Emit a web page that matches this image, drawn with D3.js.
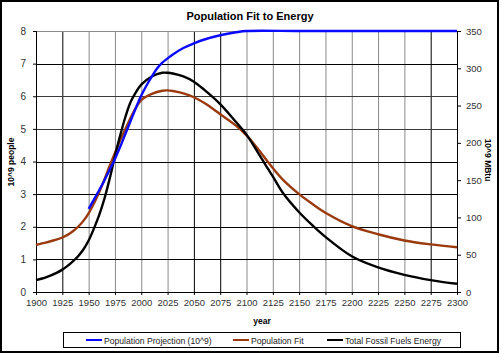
<!DOCTYPE html>
<html><head><meta charset="utf-8">
<script src="https://cdn.jsdelivr.net/npm/d3@7/dist/d3.min.js"></script>
<style>body{margin:0;background:#fff}svg{display:block}text{font-family:"Liberation Sans",Arial,sans-serif}</style>
</head><body><svg id="c" width="500" height="354"></svg>
<script>
// ---- data ----
const projYears = [1950,1955,1960,1965,1970,1975,1980,1985,1990,1995,2000,2005,2010,2015,2020,2025,2030,2040,2050,2060,2075,2090,2100,2150,2200,2250,2300];
const projValues = [2.55,2.83,3.12,3.42,3.75,4.08,4.45,4.85,5.25,5.65,6.02,6.33,6.6,6.85,7.03,7.16,7.28,7.48,7.62,7.74,7.87,7.96,8.0,8.0,8.0,8.0,8.0];

const fitYears = [1900,1910,1920,1925,1930,1935,1940,1945,1950,1955,1960,1965,1970,1975,1980,1985,1990,1995,2000,2010,2020,2025,2030,2040,2050,2060,2075,2090,2100,2110,2120,2125,2135,2150,2163,2175,2200,2225,2250,2275,2300];
const fitValues = [1.44,1.52,1.61,1.67,1.75,1.86,2.0,2.18,2.41,2.71,3.06,3.45,3.87,4.26,4.65,5.0,5.35,5.65,5.88,6.07,6.17,6.18,6.16,6.09,5.97,5.79,5.45,5.1,4.8,4.42,4.0,3.8,3.43,3.0,2.69,2.43,2.02,1.77,1.58,1.46,1.37];

const energyYears = [1900,1910,1920,1925,1930,1935,1940,1945,1950,1955,1960,1965,1970,1975,1980,1985,1990,1995,2000,2010,2020,2025,2030,2040,2050,2060,2075,2090,2100,2110,2120,2125,2135,2150,2163,2175,2200,2225,2250,2275,2300];
const energyValues = [16,20,26,30,35,41,48,57,69,85,103,125,152,182,210,235,255,268,278,289,294,294,293,289,282,271,252,228,211,189,166,155,132,107,89,74,48,33,23,16,11];

const xTicks = d3.range(1900, 2301, 25);
const leftTicks = [0,1,2,3,4,5,6,7,8];
const rightTicks = [0,50,100,150,200,250,300,350];
const seriesNames = ["Population Projection (10^9)","Population Fit","Total Fossil Fuels Energy"];
const seriesColors = ["#0a0aff","#9a3a0e","#000000"];

// ---- layout ----
const svg = d3.select("#c");
const L = 36, R = 457, T = 31, B = 292;
const x = d3.scaleLinear().domain([1900,2300]).range([L,R]);
const yL = d3.scaleLinear().domain([0,8]).range([B,T]);
const yR = d3.scaleLinear().domain([0,350]).range([B,T]);

svg.append("rect").attr("x",1).attr("y",1).attr("width",497).attr("height",351)
  .attr("fill","#fff").attr("stroke","#000").attr("stroke-width",2);

// grid
const darkV = new Set([1925,2050,2075,2275]);
svg.append("g").selectAll("line").data(xTicks.filter(d=>d>1900 && d<2300)).join("line")
  .attr("x1",d=>x(d)+0.5).attr("x2",d=>x(d)+0.5).attr("y1",T).attr("y2",B)
  .attr("stroke",d=>darkV.has(d)?"#000":"#8a8a8a").attr("stroke-width",1);
svg.append("g").selectAll("line").data(leftTicks.filter(d=>d>0)).join("line")
  .attr("x1",L).attr("x2",R).attr("y1",d=>Math.round(yL(d))+0.5).attr("y2",d=>Math.round(yL(d))+0.5)
  .attr("stroke",d=>d===8?"#8a8a8a":(d===5||d===6)?"#3a3a3a":"#000").attr("stroke-width",1);

// axes
const lab = "#333";
const gx = svg.append("g").attr("transform",`translate(0,${B})`)
  .call(d3.axisBottom(x).tickValues(xTicks).tickFormat(d3.format("d")).tickSize(3).tickPadding(4));
const gl = svg.append("g").attr("transform",`translate(${L},0)`)
  .call(d3.axisLeft(yL).tickValues(leftTicks).tickSize(3).tickPadding(7));
const gr = svg.append("g").attr("transform",`translate(${R},0)`)
  .call(d3.axisRight(yR).tickValues(rightTicks).tickSize(4).tickPadding(5));
[gx,gl,gr].forEach(g=>{
  g.select(".domain").attr("stroke","#000");
  g.selectAll(".tick line").attr("stroke","#000");
  g.selectAll("text").attr("font-size","9.5px").attr("fill",lab).attr("font-family","Liberation Sans, Arial, sans-serif");
});
gl.selectAll("text").attr("font-size","10px");

// lines
const line = (xs, ys, ysc) => d3.line().curve(d3.curveCatmullRom.alpha(0.5))
  .x((d,i)=>x(xs[i])).y(d=>ysc(d))(ys);
svg.append("path").attr("d",line(fitYears,fitValues,yL)).attr("fill","none")
  .attr("stroke",seriesColors[1]).attr("stroke-width",2.4);
svg.append("path").attr("d",line(energyYears,energyValues,yR)).attr("fill","none")
  .attr("stroke",seriesColors[2]).attr("stroke-width",2.4);
svg.append("path").attr("d",line(projYears,projValues,yL)).attr("fill","none")
  .attr("stroke",seriesColors[0]).attr("stroke-width",2.4);

// titles
svg.append("text").attr("x",250).attr("y",20).attr("text-anchor","middle")
  .attr("font-size","11px").attr("font-weight","bold").text("Population Fit to Energy");
svg.append("text").attr("x",262).attr("y",324).attr("text-anchor","middle")
  .attr("font-size","8.5px").attr("font-weight","bold").text("year");
svg.append("text").attr("transform","translate(14,162) rotate(-90)").attr("text-anchor","middle")
  .attr("font-size","8.5px").attr("font-weight","bold").text("10^9 people");
svg.append("text").attr("transform","translate(485,160) rotate(90)").attr("text-anchor","middle")
  .attr("font-size","8.5px").attr("font-weight","bold").text("10^9 MBtu");

// legend
svg.append("rect").attr("x",63.5).attr("y",332.5).attr("width",397).attr("height",15)
  .attr("fill","#fff").attr("stroke","#000").attr("stroke-width",1);
const legX = [86,233,327];
seriesNames.forEach((n,i)=>{
  svg.append("line").attr("x1",legX[i]).attr("x2",legX[i]+16).attr("y1",340).attr("y2",340)
    .attr("stroke",seriesColors[i]).attr("stroke-width",2);
  svg.append("text").attr("x",legX[i]+18).attr("y",343.5).attr("font-size","8.6px").attr("fill","#222").text(n);
});
</script></body></html>
